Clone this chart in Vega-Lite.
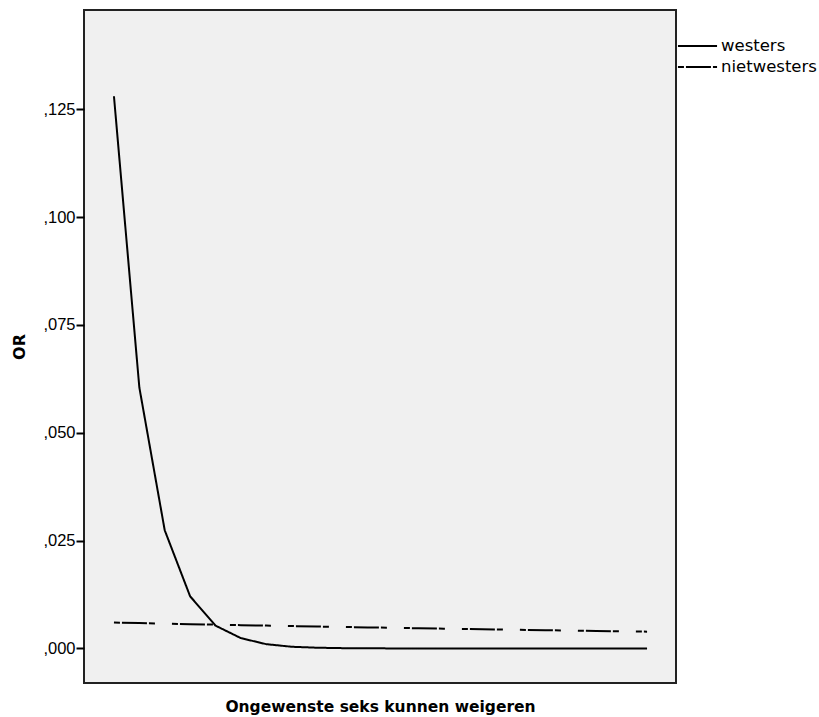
{
  "$schema": "https://vega.github.io/schema/vega-lite/v6.json",
  "autosize": "none",
  "padding": {"left": 84, "top": 10, "right": 143, "bottom": 34},
  "width": 592,
  "height": 673,
  "background": "white",
  "config": {
    "view": {"stroke": "#222222", "strokeWidth": 2, "fill": "#f0f0f0"}
  },
  "data": {
    "values": [
      {"x": 1, "series": "westers", "OR": 0.1280},
      {"x": 2, "series": "westers", "OR": 0.0605},
      {"x": 3, "series": "westers", "OR": 0.0274},
      {"x": 4, "series": "westers", "OR": 0.0121},
      {"x": 5, "series": "westers", "OR": 0.0053},
      {"x": 6, "series": "westers", "OR": 0.0024},
      {"x": 7, "series": "westers", "OR": 0.0010},
      {"x": 8, "series": "westers", "OR": 0.0004},
      {"x": 9, "series": "westers", "OR": 0.00018},
      {"x": 10, "series": "westers", "OR": 0.00008},
      {"x": 11, "series": "westers", "OR": 0.00004},
      {"x": 12, "series": "westers", "OR": 0.00002},
      {"x": 13, "series": "westers", "OR": 0.00001},
      {"x": 14, "series": "westers", "OR": 0.000005},
      {"x": 15, "series": "westers", "OR": 0.000002},
      {"x": 16, "series": "westers", "OR": 0.000001},
      {"x": 17, "series": "westers", "OR": 0.0000005},
      {"x": 18, "series": "westers", "OR": 0.0000002},
      {"x": 19, "series": "westers", "OR": 0.0000001},
      {"x": 20, "series": "westers", "OR": 0.00000005},
      {"x": 21, "series": "westers", "OR": 0.00000002},
      {"x": 22, "series": "westers", "OR": 0.00000001},
      {"x": 1, "series": "nietwesters", "OR": 0.00600},
      {"x": 2, "series": "nietwesters", "OR": 0.00588},
      {"x": 3, "series": "nietwesters", "OR": 0.00576},
      {"x": 4, "series": "nietwesters", "OR": 0.00564},
      {"x": 5, "series": "nietwesters", "OR": 0.00553},
      {"x": 6, "series": "nietwesters", "OR": 0.00541},
      {"x": 7, "series": "nietwesters", "OR": 0.00530},
      {"x": 8, "series": "nietwesters", "OR": 0.00520},
      {"x": 9, "series": "nietwesters", "OR": 0.00509},
      {"x": 10, "series": "nietwesters", "OR": 0.00499},
      {"x": 11, "series": "nietwesters", "OR": 0.00489},
      {"x": 12, "series": "nietwesters", "OR": 0.00479},
      {"x": 13, "series": "nietwesters", "OR": 0.00469},
      {"x": 14, "series": "nietwesters", "OR": 0.00460},
      {"x": 15, "series": "nietwesters", "OR": 0.00450},
      {"x": 16, "series": "nietwesters", "OR": 0.00441},
      {"x": 17, "series": "nietwesters", "OR": 0.00432},
      {"x": 18, "series": "nietwesters", "OR": 0.00424},
      {"x": 19, "series": "nietwesters", "OR": 0.00415},
      {"x": 20, "series": "nietwesters", "OR": 0.00407},
      {"x": 21, "series": "nietwesters", "OR": 0.00398},
      {"x": 22, "series": "nietwesters", "OR": 0.00390}
    ]
  },
  "mark": {"type": "line", "color": "black", "strokeWidth": 2},
  "encoding": {
    "x": {
      "field": "x",
      "type": "quantitative",
      "scale": {"domain": [-0.18, 23.14], "nice": false, "zero": false},
      "axis": {
        "title": "Ongewenste seks kunnen weigeren",
        "labels": false,
        "ticks": false,
        "domain": false,
        "grid": false,
        "titleFont": "DejaVu Sans",
        "titleFontWeight": "bold",
        "titleFontSize": 15.5,
        "titleColor": "black",
        "titleX": 296,
        "titleY": 23,
        "titleBaseline": "middle",
        "titleAlign": "center"
      }
    },
    "y": {
      "field": "OR",
      "type": "quantitative",
      "scale": {"domain": [-0.008, 0.148], "nice": false, "zero": false},
      "axis": {
        "title": "OR",
        "values": [0, 0.025, 0.05, 0.075, 0.1, 0.125],
        "labelExpr": "replace(format(datum.value, '.3f'), '0.', ',')",
        "labelFont": "Liberation Sans",
        "labelFontSize": 16.5,
        "labelColor": "black",
        "labelPadding": 1,
        "tickColor": "black",
        "tickWidth": 2,
        "tickSize": 8,
        "domain": false,
        "grid": false,
        "titleFont": "DejaVu Sans",
        "titleFontWeight": "bold",
        "titleFontSize": 16,
        "titleColor": "black",
        "titleX": -65,
        "titleY": 336.5,
        "titleAngle": -90,
        "titleBaseline": "middle",
        "titleAlign": "center"
      }
    },
    "strokeDash": {
      "field": "series",
      "type": "nominal",
      "scale": {"domain": ["westers", "nietwesters"], "range": [[1, 0], [6, 2, 25, 2, 6, 17]]},
      "legend": {
        "title": null,
        "orient": "none",
        "legendX": 601,
        "legendY": 23.5,
        "symbolType": "M-1.7,0H1.7",
        "symbolSize": 529,
        "symbolStrokeColor": "black",
        "symbolStrokeWidth": 2,
        "labelFont": "DejaVu Sans",
        "labelFontSize": 16.5,
        "labelColor": "black",
        "labelOffset": 11,
        "rowPadding": 0
      }
    }
  }
}
